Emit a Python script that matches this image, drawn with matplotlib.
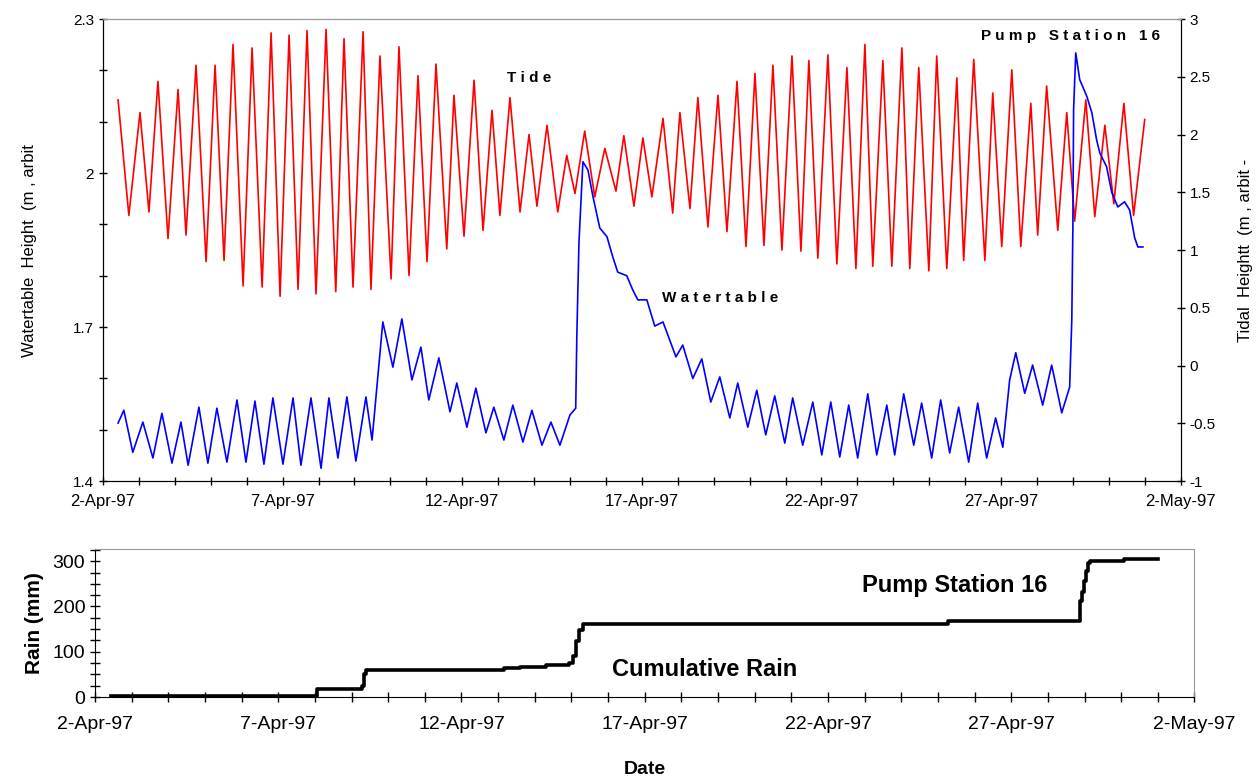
import matplotlib
matplotlib.use("Agg")
import matplotlib.pyplot as plt
import matplotlib.dates as mdates
from matplotlib.ticker import FuncFormatter, MultipleLocator, FixedLocator
import numpy as np
import pandas as pd

START = pd.Timestamp("1997-04-02")
END = pd.Timestamp("1997-05-02")

# tide extremes (days after 2-Apr-97, tidal height m)
tide_day = [0.42, 0.72, 1.03, 1.28, 1.53, 1.81, 2.09, 2.31, 2.59, 2.87,
            3.12, 3.37, 3.62, 3.90, 4.15, 4.43, 4.68, 4.93, 5.18, 5.43,
            5.68, 5.93, 6.21, 6.48, 6.71, 6.96, 7.24, 7.46, 7.71, 8.02,
            8.24, 8.52, 8.77, 9.02, 9.27, 9.57, 9.77, 10.05, 10.33, 10.58,
            10.83, 11.05, 11.33, 11.61, 11.86, 12.08, 12.36, 12.66, 12.91, 13.14,
            13.41, 13.69, 13.97, 14.28, 14.50, 14.78, 15.03, 15.28, 15.59, 15.86,
            16.06, 16.34, 16.56, 16.84, 17.12, 17.37, 17.65, 17.90, 18.15, 18.40,
            18.65, 18.90, 19.18, 19.43, 19.65, 19.90, 20.18, 20.43, 20.71, 20.96,
            21.21, 21.43, 21.71, 21.96, 22.24, 22.46, 22.71, 22.99, 23.21, 23.49,
            23.77, 23.96, 24.24, 24.55, 24.77, 25.02, 25.30, 25.55, 25.83, 26.02,
            26.27, 26.58, 26.83, 27.05, 27.36, 27.61, 27.89, 28.14, 28.42, 28.69,
            29.00]
tide_m = [2.30, 1.30, 2.19, 1.33, 2.46, 1.10, 2.39, 1.13, 2.60, 0.90,
          2.60, 0.91, 2.78, 0.69, 2.75, 0.68, 2.88, 0.60, 2.86, 0.66,
          2.90, 0.62, 2.91, 0.64, 2.83, 0.68, 2.89, 0.66, 2.68, 0.75,
          2.76, 0.78, 2.51, 0.90, 2.61, 1.01, 2.34, 1.12, 2.47, 1.17,
          2.21, 1.30, 2.32, 1.33, 2.00, 1.38, 2.08, 1.33, 1.82, 1.49,
          2.03, 1.46, 1.88, 1.51, 1.99, 1.38, 1.97, 1.46, 2.14, 1.32,
          2.19, 1.36, 2.32, 1.20, 2.34, 1.16, 2.46, 1.03, 2.53, 1.04,
          2.60, 1.00, 2.68, 0.99, 2.64, 0.93, 2.69, 0.88, 2.58, 0.84,
          2.78, 0.86, 2.64, 0.86, 2.75, 0.84, 2.58, 0.82, 2.68, 0.84,
          2.49, 0.91, 2.65, 0.91, 2.36, 1.03, 2.56, 1.03, 2.27, 1.13,
          2.42, 1.17, 2.19, 1.25, 2.30, 1.29, 2.08, 1.40, 2.27, 1.30,
          2.13]

# watertable (days after 2-Apr-97, height m)
wt_day = [0.42, 0.58, 0.83, 1.11, 1.39, 1.64, 1.92, 2.17, 2.37, 2.67,
          2.92, 3.17, 3.45, 3.73, 3.98, 4.23, 4.48, 4.73, 5.01, 5.29,
          5.51, 5.79, 6.07, 6.29, 6.54, 6.79, 7.04, 7.32, 7.49, 7.79,
          8.07, 8.32, 8.60, 8.85, 9.07, 9.35, 9.66, 9.85, 10.13, 10.38,
          10.66, 10.88, 11.16, 11.41, 11.69, 11.94, 12.22, 12.47, 12.72, 13.00,
          13.16, 13.19, 13.25, 13.36, 13.50, 13.64, 13.83, 14.03, 14.19, 14.33,
          14.58, 14.75, 14.89, 15.14, 15.36, 15.59, 15.95, 16.14, 16.42, 16.67,
          16.92, 17.17, 17.45, 17.67, 17.95, 18.20, 18.45, 18.70, 18.98, 19.20,
          19.48, 19.76, 20.01, 20.26, 20.51, 20.76, 21.01, 21.29, 21.54, 21.82,
          22.04, 22.29, 22.57, 22.79, 23.07, 23.32, 23.57, 23.82, 24.10, 24.35,
          24.60, 24.85, 25.05, 25.24, 25.41, 25.66, 25.88, 26.16, 26.41, 26.69,
          26.91, 26.97, 27.00, 27.02, 27.08, 27.19, 27.39, 27.53, 27.66, 27.75,
          27.94, 28.08, 28.25, 28.44, 28.58, 28.72, 28.81, 28.95]
wt_m = [1.513, 1.538, 1.456, 1.515, 1.445, 1.532, 1.435, 1.515, 1.431, 1.544,
        1.435, 1.542, 1.437, 1.558, 1.437, 1.556, 1.433, 1.562, 1.433, 1.562,
        1.431, 1.562, 1.425, 1.562, 1.445, 1.564, 1.439, 1.564, 1.480, 1.710,
        1.622, 1.716, 1.597, 1.661, 1.558, 1.640, 1.535, 1.591, 1.505, 1.581,
        1.494, 1.544, 1.480, 1.548, 1.476, 1.538, 1.470, 1.515, 1.470, 1.529,
        1.542, 1.680, 1.864, 2.022, 2.006, 1.954, 1.893, 1.876, 1.837, 1.807,
        1.800, 1.772, 1.753, 1.753, 1.702, 1.710, 1.642, 1.665, 1.600, 1.638,
        1.554, 1.603, 1.523, 1.591, 1.505, 1.577, 1.490, 1.566, 1.474, 1.562,
        1.470, 1.554, 1.451, 1.554, 1.447, 1.548, 1.445, 1.570, 1.451, 1.548,
        1.451, 1.570, 1.470, 1.552, 1.445, 1.558, 1.455, 1.544, 1.437, 1.552,
        1.445, 1.523, 1.466, 1.597, 1.650, 1.571, 1.626, 1.548, 1.626, 1.533,
        1.583, 1.714, 1.895, 2.123, 2.234, 2.182, 2.149, 2.117, 2.065, 2.039,
        2.012, 1.963, 1.934, 1.944, 1.928, 1.874, 1.856, 1.856]

# cumulative rain, step values (days after 2-Apr-97, mm)
rain_day = [0.44, 6.07, 7.29, 7.33, 7.40, 11.16, 11.60, 12.30, 12.94, 13.05,
            13.13, 13.21, 13.33, 23.28, 26.87, 26.93, 26.98, 27.04, 27.10, 27.15,
            28.09, 29.00]
rain_mm = [2, 18, 25, 51, 60, 64, 67, 70, 76, 91,
           124, 148, 161, 168, 213, 231, 256, 278, 296, 300,
           304, 304]

wt_ticks = [1.4, 1.7, 2.0, 2.3]


def to_dates(days):
    return START + pd.to_timedelta(np.array(days), unit="D")


def date_label(x, pos):
    d = mdates.num2date(x)
    return f"{d.day}-{d:%b-%y}"


def date_axis(a):
    a.xaxis.set_major_locator(mdates.DayLocator(bymonthday=[2, 7, 12, 17, 22, 27]))
    a.xaxis.set_minor_locator(mdates.DayLocator())
    a.xaxis.set_major_formatter(FuncFormatter(date_label))


plt.rcParams["font.family"] = ["Liberation Sans", "DejaVu Sans"]

fig = plt.figure(figsize=(12.56, 7.76), dpi=100)

# ---- top panel: watertable + tide ----
ax = fig.add_axes([0.082, 0.380, 0.858, 0.5955])
ax2 = ax.twinx()

ax2.plot(to_dates(tide_day), tide_m, color="#ff0000", lw=1.2)
ax.plot(to_dates(wt_day), wt_m, color="#0000ff", lw=1.2)
ax.set_zorder(ax2.get_zorder() + 1)
ax.patch.set_visible(False)

ax.set_xlim(START, END)
ax.set_ylim(1.4, 2.3)
ax2.set_ylim(-1, 3)

ax.yaxis.set_major_locator(FixedLocator(wt_ticks))
ax.yaxis.set_minor_locator(MultipleLocator(0.1))
ax.yaxis.set_major_formatter(FuncFormatter(lambda v, p: f"{v:g}"))
ax2.yaxis.set_major_locator(MultipleLocator(0.5))
ax2.yaxis.set_major_formatter(FuncFormatter(lambda v, p: f"{v:g}"))

date_axis(ax)
for a in (ax, ax2):
    a.tick_params(which="both", direction="inout", length=6, width=1, labelsize=11)
    a.spines["top"].set_color("#999999")
ax.tick_params(axis="x", labelsize=12, pad=6)

ax.set_ylabel("Watertable  Height  (m , arbit", fontsize=12, labelpad=26)
ax2.set_ylabel("Tidal  Heightt  (m , arbit -", fontsize=12, labelpad=16)

fig.text(0.421, 0.899, "T i d e", fontsize=11, fontweight="bold", ha="center", va="center")
fig.text(0.573, 0.616, "W a t e r t a b l e", fontsize=11, fontweight="bold", ha="center", va="center")
fig.text(0.852, 0.954, "P u m p   S t a t i o n   1 6", fontsize=11, fontweight="bold",
         ha="center", va="center")

# ---- bottom panel: cumulative rain ----
bx = fig.add_axes([0.0756, 0.1018, 0.8754, 0.1907])
bx.plot(to_dates(rain_day), rain_mm, color="black", lw=2.6, drawstyle="steps-post")
bx.set_xlim(START, END)
bx.set_ylim(0, 327)
bx.yaxis.set_major_locator(MultipleLocator(100))
bx.yaxis.set_minor_locator(MultipleLocator(25))
date_axis(bx)
bx.tick_params(which="both", direction="inout", length=7, width=1, labelsize=14)
bx.tick_params(axis="x", pad=10)
for s in ("top", "right"):
    bx.spines[s].set_color("#999999")
bx.set_ylabel("Rain (mm)", fontsize=15, fontweight="bold", labelpad=6)
bx.set_xlabel("Date", fontsize=14, fontweight="bold", labelpad=20)

fig.text(0.760, 0.246, "Pump Station 16", fontsize=17, fontweight="bold", ha="center", va="center")
fig.text(0.561, 0.137, "Cumulative Rain", fontsize=17, fontweight="bold", ha="center", va="center")

fig.savefig("out.png", dpi=100)
